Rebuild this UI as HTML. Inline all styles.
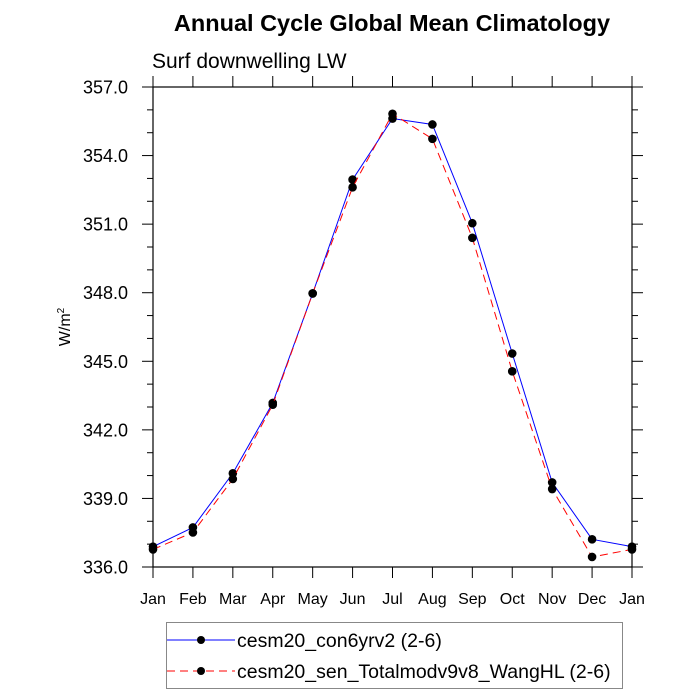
<!DOCTYPE html>
<html><head><meta charset="utf-8"><style>
body{margin:0;background:#fff;}
svg{display:block;font-family:"Liberation Sans",sans-serif;}
</style></head><body>
<svg id="chart" width="700" height="700" viewBox="0 0 700 700">
<text x="392" y="31" text-anchor="middle" font-size="23.5" font-weight="bold">Annual Cycle Global Mean Climatology</text>
<text x="152" y="68" font-size="21">Surf downwelling LW</text>
<text transform="translate(70,327) rotate(-90)" text-anchor="middle" font-size="16">W/m<tspan dy="-6" font-size="10">2</tspan></text>
<g id="axes"></g><g id="series"></g>
<g>
<rect x="166.5" y="622.5" width="456" height="66" fill="#fff" stroke="#888" stroke-width="1"/>
<g>
<line x1="167" y1="640" x2="235" y2="640" stroke="#0000ff" stroke-width="1"/>
<circle cx="201" cy="640" r="4" fill="#000"/>
<text x="237" y="647" font-size="19.5">cesm20_con6yrv2 (2-6)</text></g>
<g>
<line x1="167" y1="671" x2="235" y2="671" stroke="#ff0000" stroke-width="1" stroke-dasharray="8,5"/>
<circle cx="201" cy="671" r="4" fill="#000"/>
<text x="237" y="678" font-size="19.5">cesm20_sen_Totalmodv9v8_WangHL (2-6)</text></g>
</g>
</svg>
<script>
const months=["Jan","Feb","Mar","Apr","May","Jun","Jul","Aug","Sep","Oct","Nov","Dec","Jan"];
const conValues=[336.89,337.73,340.10,343.18,347.97,352.95,355.62,355.36,351.04,345.34,339.70,337.21,336.89];
const senValues=[336.77,337.51,339.85,343.10,347.97,352.61,355.83,354.73,350.40,344.56,339.41,336.44,336.77];
const yTicks=[336,339,342,345,348,351,354,357];
const yMin=336,yMax=357;
const L=153,R=632,T=87,B=567;
const NS="http://www.w3.org/2000/svg";
function X(i){return L+(R-L)*i/(months.length-1);}
function Y(v){return B-(B-T)*(v-yMin)/(yMax-yMin);}
function mk(tag,attrs,parent){const e=document.createElementNS(NS,tag);for(const k in attrs)e.setAttribute(k,attrs[k]);parent.appendChild(e);return e;}
const ax=document.getElementById('axes');
const frame=mk('rect',{x:L,y:T,width:R-L,height:B-T,fill:'none',stroke:'#000','stroke-width':1.2},ax);


months.forEach((m,i)=>{
  const x=X(i);
  mk('line',{x1:x,y1:B,x2:x,y2:B+11,stroke:'#000'},ax);
  mk('line',{x1:x,y1:T,x2:x,y2:T-11,stroke:'#000'},ax);
  const t=mk('text',{x:x,y:B+37,'text-anchor':'middle','font-size':16},ax);
  t.textContent=m;
  
  
});
for(let v=yMin;v<=yMax;v++){
  const y=Y(v),maj=(v-yMin)%3===0,len=maj?11:6;
  mk('line',{x1:L,y1:y,x2:L-len,y2:y,stroke:'#000'},ax);
  mk('line',{x1:R,y1:y,x2:R+len,y2:y,stroke:'#000'},ax);
}
yTicks.forEach(v=>{
  const t=mk('text',{x:L-25,y:Y(v)+6.5,'text-anchor':'end','font-size':18},ax);
  t.textContent=v.toFixed(1);
  
  
});
const sg=document.getElementById('series');
function draw(vals,color,dash,name){
  const g=mk('g',{},sg);
  
  
  const p=mk('polyline',{points:vals.map((v,i)=>X(i)+','+Y(v)).join(' '),fill:'none',stroke:color,'stroke-width':1,'stroke-dasharray':dash},g);
  
  
  vals.forEach((v,i)=>{
    const c=mk('circle',{cx:X(i),cy:Y(v),r:4.3,fill:'#000'},g);
    
    
  });
}
draw(conValues,'#0000ff','none','series-con6yrv2');
draw(senValues,'#ff0000','8,5','series-sen-wanghl');
</script>
</body></html>
